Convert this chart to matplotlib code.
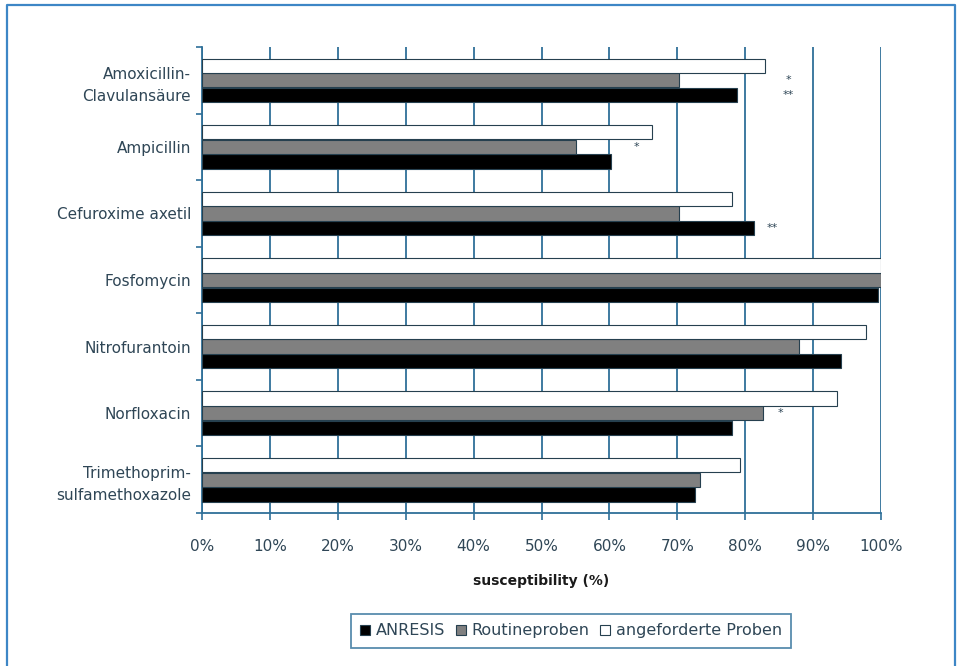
import numpy as np
import matplotlib.pyplot as plt
from matplotlib.lines import Line2D

# data (susceptibility in %)
categories = ['Amoxicillin-\nClavulansäure', 'Ampicillin', 'Cefuroxime axetil',
              'Fosfomycin', 'Nitrofurantoin', 'Norfloxacin',
              'Trimethoprim-\nsulfamethoxazole']
anresis = [78.8, 60.3, 81.3, 99.5, 94.1, 78.0, 72.6]
routine = [70.2, 55.1, 70.2, 100.0, 87.9, 82.6, 73.4]
requested = [82.9, 66.3, 78.1, 100.0, 97.8, 93.5, 79.3]
series_names = ['ANRESIS', 'Routineproben', 'angeforderte Proben']

# significance marks: (category, series row, x position in %, text)
stars = [(0, 1, 86.3, '*'), (0, 0, 86.3, '**'), (1, 1, 64.0, '*'),
         (2, 0, 84.0, '**'), (5, 1, 85.2, '*')]

plt.rcParams['font.family'] = 'DejaVu Sans'
txt_col = '#2f4656'
blue = '#2f7099'

fig = plt.figure(figsize=(9.58, 6.66), dpi=100)
ax = fig.add_axes([0.2109, 0.2297, 0.7087, 0.6997])

y = np.arange(len(categories))
h = 0.215
offs = [0.22, 0.0, -0.22]  # black bottom, gray middle, white top
colors = ['black', '#808080', 'white']
handles = []
for vals, off, col, name in zip([anresis, routine, requested], offs, colors, series_names):
    b = ax.barh(y + off, vals, height=h, color=col, edgecolor='#26404f',
                linewidth=0.8, label=name, zorder=3)
    handles.append(b)

for cat, row, xv, s in stars:
    ax.text(xv, cat + offs[row], s, ha='center', va='center', fontsize=8,
            color=txt_col, zorder=4)

ax.set_xlim(0, 100)
ax.set_ylim(len(categories) - 0.5, -0.5)
ax.set_xticks(np.arange(0, 101, 10))
ax.set_xticklabels([f'{v}%' for v in range(0, 101, 10)])
ax.set_yticks(y)
ax.set_yticklabels(categories, linespacing=1.6)
ax.set_yticks(np.arange(-0.5, len(categories)), minor=True)
ax.tick_params(axis='y', which='major', length=0, pad=8, labelsize=11, labelcolor=txt_col)
ax.tick_params(axis='y', which='minor', length=4, color=blue, width=1.2)
ax.tick_params(axis='x', length=5, color=blue, width=1.2, labelsize=11,
               labelcolor=txt_col, pad=14)
ax.xaxis.grid(True, color=blue, linewidth=1.3, zorder=0)
ax.set_axisbelow(True)
for sp in ['top', 'right']:
    ax.spines[sp].set_visible(False)
for sp in ['left', 'bottom']:
    ax.spines[sp].set_color(blue)
    ax.spines[sp].set_linewidth(1.3)

ax.set_xlabel('susceptibility (%)', fontsize=10, fontweight='bold', color='#1a1a1a',
              labelpad=14)

leg = fig.legend(handles=handles, loc='center', bbox_to_anchor=(0.596, 0.053), ncol=3,
                 fontsize=11.5, handlelength=0.6, handleheight=0.6, handletextpad=0.35,
                 columnspacing=0.7, fancybox=False, borderpad=0.6, frameon=True)
leg.get_frame().set_edgecolor(blue)
leg.get_frame().set_linewidth(1.3)
for t in leg.get_texts():
    t.set_color(txt_col)

# outer blue frame
fx = [7 / 958, 7 / 958, 955 / 958, 955 / 958]
fy = [0, 1 - 5 / 666, 1 - 5 / 666, 0]
fig.add_artist(Line2D(fx, fy, transform=fig.transFigure, color='#3d86c6', linewidth=1.6))

fig.savefig('out.png', dpi=100)
